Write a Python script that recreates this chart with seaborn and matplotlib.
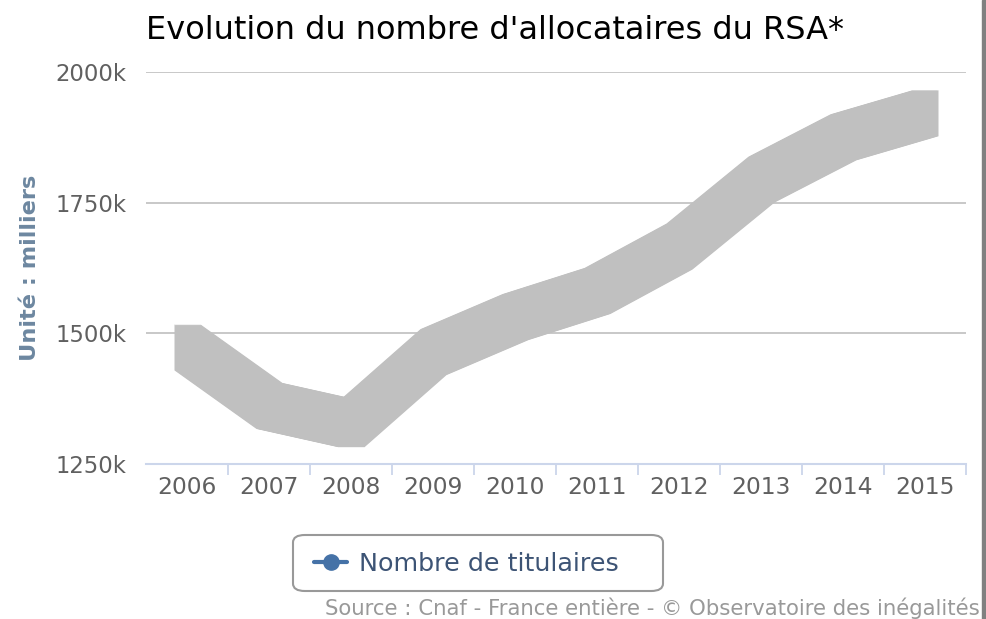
import numpy as np
import pandas as pd
import matplotlib
matplotlib.use("Agg")
import matplotlib.pyplot as plt
import matplotlib.transforms as mtransforms
from matplotlib.lines import Line2D
from matplotlib.patches import FancyBboxPatch
from matplotlib.ticker import FixedLocator, FuncFormatter
import seaborn as sns

# ---- data ----
years = ["2006", "2007", "2008", "2009", "2010", "2011", "2012", "2013", "2014", "2015"]
titulaires = [1474, 1362, 1327, 1465, 1532, 1582, 1667, 1795, 1876, 1922]
y_ticks = [1250, 1500, 1750, 2000]
title = "Evolution du nombre d'allocataires du RSA*"
ylabel = "Unité : milliers"
series_name = "Nombre de titulaires"
source = "Source : Cnaf - France entière - © Observatoire des inégalités"

sns.set_theme(style="white")
plt.rcParams["font.family"] = ["DejaVu Sans"]

W, H = 987, 619
fig = plt.figure(figsize=(W / 100, H / 100), dpi=100)
ax = fig.add_axes([146 / W, 1 - 464 / H, (966 - 146) / W, (464 - 72) / H])

df = pd.DataFrame({"pos": np.arange(len(years)), "val": titulaires})

band_color = "#c0c0c0"
half_h = 44.0  # half vertical thickness of the band, in data units
# band drawn with a rectangular "pen": union of horizontally shifted vertical bands
for dx in np.arange(-13, 13.5, 1.0):
    tr = mtransforms.offset_copy(ax.transData, fig=fig, x=dx, y=0, units="dots")
    ax.fill_between(df["pos"], df["val"] - half_h, df["val"] + half_h,
                    color=band_color, linewidth=0, antialiased=True,
                    transform=tr, zorder=3)
sns.lineplot(data=df, x="pos", y="val", ax=ax, color=band_color, linewidth=4,
             zorder=3, legend=False)

ax.set_xlim(-0.5, len(years) - 0.5)
ax.set_ylim(y_ticks[0], y_ticks[-1])
ax.set_xlabel("")
ax.set_ylabel("")

ax.xaxis.set_major_locator(FixedLocator(np.arange(len(years))))
ax.set_xticklabels(years)
ax.xaxis.set_minor_locator(FixedLocator(np.arange(len(years)) + 0.5))
ax.tick_params(axis="x", which="major", bottom=False, length=0, pad=9,
               labelsize=16.8, labelcolor="#606060")
ax.tick_params(axis="x", which="minor", bottom=True, length=8, width=1.3,
               color="#ccd6eb", direction="out")

ax.set_yticks(y_ticks)
ax.yaxis.set_major_formatter(FuncFormatter(lambda v, p: f"{int(v)}k"))
ax.tick_params(axis="y", left=False, length=0, pad=14, labelsize=16.4, labelcolor="#606060")
ax.grid(axis="y", color="#c4c4c4", linewidth=1.3)
ax.grid(axis="x", visible=False)
for s in ["left", "right", "top"]:
    ax.spines[s].set_visible(False)
ax.spines["bottom"].set_color("#ccd6eb")
ax.spines["bottom"].set_linewidth(1.5)
ax.spines["bottom"].set_zorder(4)
ax.set_axisbelow(True)

fig.text(146 / W, 1 - 39 / H, title, fontsize=23.0, color="#000000", ha="left", va="baseline")
fig.text(30 / W, 1 - 268 / H, ylabel, rotation=90, fontsize=16.2, fontweight="bold",
         color="#6d87a0", ha="center", va="center")

# legend box
box = FancyBboxPatch((293 / W, 1 - 591 / H), (663 - 293) / W, (591 - 535) / H,
                     boxstyle="round,pad=0,rounding_size=0.012", transform=fig.transFigure,
                     facecolor="white", edgecolor="#999999", linewidth=1.5, zorder=5)
fig.patches.append(box)
handle = Line2D([], [], color="#4572a7", linewidth=3, marker="o", markersize=11)
leg = fig.legend([handle], [series_name], loc="center left",
                 bbox_to_anchor=(294 / W, 1 - 564 / H),
                 frameon=False, fontsize=18.3, handlelength=1.3, borderpad=0.3,
                 handletextpad=0.45)
leg.set_zorder(6)
for t in leg.get_texts():
    t.set_color("#3d5475")

fig.text(980 / W, 1 - 608 / H, source, fontsize=15.3, color="#999999", ha="right", va="center")

fig.patches.append(plt.Rectangle((982 / W, 0), 5 / W, 1, transform=fig.transFigure,
                                 color="#808080", zorder=10))

fig.savefig("out.png", dpi=100)
